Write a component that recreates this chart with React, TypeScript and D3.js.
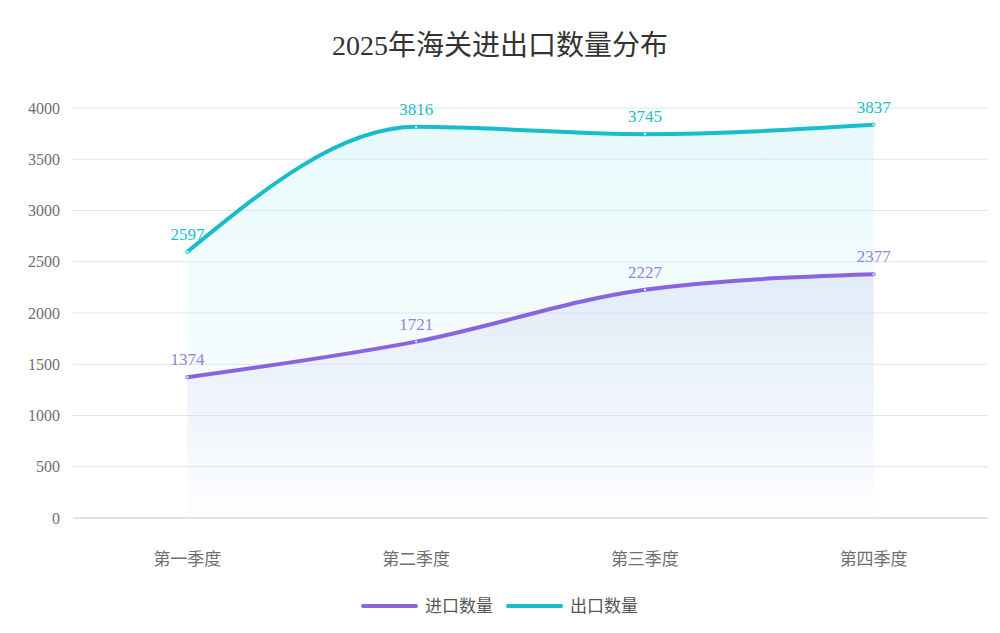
import React from 'react';
import * as d3 from 'd3';

const categories = ['第一季度', '第二季度', '第三季度', '第四季度'];
const importValues = [1374, 1721, 2227, 2377];
const exportValues = [2597, 3816, 3745, 3837];
const yTicks = [0, 500, 1000, 1500, 2000, 2500, 3000, 3500, 4000];

const W = 1000;
const H = 633;
const M = { left: 73, right: 12, top: 108, bottom: 115 };

const SERIES = [
  { name: '进口数量', values: importValues, color: '#8a63de', label: '#9a80dc', fill: '#cfd0f0', op: 0.42, id: 'gImp' },
  { name: '出口数量', values: exportValues, color: '#17bdca', label: '#1bbccb', fill: '#c6f0f4', op: 0.4, id: 'gExp' },
];

const FONT = '"Liberation Serif", "Noto Sans CJK SC", serif';

export default function App() {
  const x = d3
    .scaleBand<string>()
    .domain(categories)
    .range([M.left, W - M.right]);
  const y = d3
    .scaleLinear()
    .domain([0, 4000])
    .range([H - M.bottom, M.top]);
  const cx = (c: string) => (x(c) ?? 0) + x.bandwidth() / 2;

  const line = d3
    .line<number>()
    .x((_, i) => cx(categories[i]))
    .y((d) => y(d))
    .curve(d3.curveMonotoneX);
  const area = d3
    .area<number>()
    .x((_, i) => cx(categories[i]))
    .y0(y(0))
    .y1((d) => y(d))
    .curve(d3.curveMonotoneX);

  return (
    <svg width={W} height={H} style={{ display: 'block', position: 'absolute', left: 0, top: 0, background: '#fff' }}>
      <defs>
        {SERIES.map((s) => (
          <linearGradient key={s.id} id={s.id} x1="0" y1="0" x2="0" y2="1">
            <stop offset="0%" stopColor={s.fill} stopOpacity={s.op} />
            <stop offset="100%" stopColor={s.fill} stopOpacity={0.02} />
          </linearGradient>
        ))}
      </defs>

      <text x={W / 2} y={55} textAnchor="middle" fontSize={28} fill="#333" fontFamily={FONT}>
        2025年海关进出口数量分布
      </text>

      {yTicks.map((t) => (
        <g key={t}>
          <line x1={M.left} x2={W - M.right} y1={y(t)} y2={y(t)} stroke="#e3e3e6" strokeWidth={t === 0 ? 2 : 1.2} />
          <text x={60} y={y(t)} dy="0.35em" textAnchor="end" fontSize={16} fill="#6e6e6e" fontFamily={FONT}>
            {t}
          </text>
        </g>
      ))}

      {categories.map((c) => (
        <text key={c} x={cx(c)} y={565} textAnchor="middle" fontSize={17} fill="#6e6e6e" fontFamily={FONT}>
          {c}
        </text>
      ))}

      {SERIES.map((s) => (
        <path key={s.id + 'a'} d={area(s.values) ?? ''} fill={`url(#${s.id})`} />
      ))}

      {SERIES.map((s) => (
        <g key={s.id + 'l'}>
          <path d={line(s.values) ?? ''} fill="none" stroke={s.color} strokeWidth={4} strokeLinecap="round" />
          {s.values.map((v, i) => (
            <circle key={i} cx={cx(categories[i])} cy={y(v)} r={1.2} fill="#fff" opacity={0.8} />
          ))}
          {s.values.map((v, i) => (
            <text
              key={'t' + i}
              x={cx(categories[i])}
              y={y(v) - 12}
              textAnchor="middle"
              fontSize={17}
              fill={s.label}
              fontFamily={FONT}
            >
              {v}
            </text>
          ))}
        </g>
      ))}

      {SERIES.map((s, i) => {
        const lx = 363 + i * 145;
        return (
          <g key={s.id + 'g'}>
            <line x1={lx} x2={lx + 53} y1={606} y2={606} stroke={s.color} strokeWidth={4} strokeLinecap="round" />
            <text x={lx + 62} y={606} dy="0.35em" fontSize={17} fill="#555" fontFamily={FONT}>
              {s.name}
            </text>
          </g>
        );
      })}
    </svg>
  );
}
